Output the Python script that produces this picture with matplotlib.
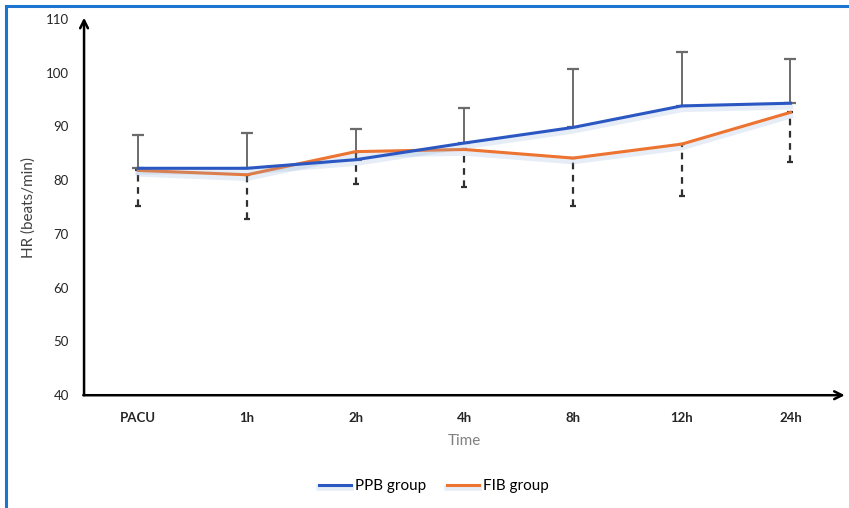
import matplotlib
matplotlib.use("Agg")
import matplotlib.pyplot as plt
import matplotlib.patheffects as pe
from matplotlib.patches import Rectangle
import numpy as np

plt.rcParams['font.family'] = ['Lato', 'DejaVu Sans']

categories = ["PACU", "1h", "2h", "4h", "8h", "12h", "24h"]
ppb_mean = [82.2, 82.2, 83.8, 86.9, 89.8, 93.8, 94.3]
ppb_sd = [6.2, 6.6, 5.7, 6.6, 10.9, 10.0, 8.3]
fib_mean = [81.8, 81.0, 85.3, 85.7, 84.1, 86.7, 92.6]
fib_sd = [6.7, 8.3, 6.0, 6.9, 9.0, 9.6, 9.3]
y_ticks = [40, 50, 60, 70, 80, 90, 100, 110]

blue = "#2B57C2"
orange = "#EC7330"

fig = plt.figure(figsize=(8.49, 5.08), dpi=100)
ax = fig.add_axes([0.099, 0.222, 0.896, 0.741])
x = np.arange(len(categories))

# error bars
eb1 = ax.errorbar(x, ppb_mean, yerr=[np.zeros(len(x)), ppb_sd], fmt='none',
                  ecolor="#6b6b6b", elinewidth=1.4, capsize=4, capthick=1.6, zorder=2)
eb2 = ax.errorbar(x, fib_mean, yerr=[fib_sd, np.zeros(len(x))], fmt='none',
                  ecolor="#303030", elinewidth=1.6, capsize=2.5, capthick=1.6, zorder=2)
for lc in eb2[2]:
    lc.set_linestyle((0, (3, 2.5)))

shadow = lambda c: [pe.SimpleLineShadow(offset=(0, -2.5), shadow_color=c, alpha=0.22, linewidth=4),
                    pe.Normal()]
ax.plot(x, ppb_mean, color=blue, lw=2.2, label="PPB group", zorder=4,
        path_effects=shadow("#8fb0d8"), solid_joinstyle='miter')
ax.plot(x, fib_mean, color=orange, lw=2.2, label="FIB group", zorder=3,
        path_effects=shadow("#8fb0d8"), solid_joinstyle='miter')

ax.set_xlim(-0.5, 6.5)
ax.set_ylim(40, 110)
ax.set_yticks(y_ticks)
ax.set_xticks(x)
ax.set_xticklabels(categories, fontsize=9.5, fontweight='bold', color="#262626")
ax.tick_params(axis='y', length=0, pad=11, labelsize=9.5, labelcolor="#262626")
ax.tick_params(axis='x', length=0, pad=12)
for s in ax.spines.values():
    s.set_visible(False)

# arrow axes
ax.annotate("", xy=(0, 1.003), xytext=(0, 0), xycoords='axes fraction',
            arrowprops=dict(arrowstyle='->', color='black', lw=1.8, shrinkA=0, shrinkB=0,
                            mutation_scale=14))
ax.annotate("", xy=(1.0, 0), xytext=(-0.001, 0), xycoords='axes fraction',
            arrowprops=dict(arrowstyle='->', color='black', lw=1.8, shrinkA=0, shrinkB=0,
                            mutation_scale=14))

ax.set_ylabel("HR (beats/min)", fontsize=11, color="#404040", labelpad=7)
ax.set_xlabel("Time", fontsize=11, color="#808080", labelpad=7)

fig.legend(loc='center', bbox_to_anchor=(0.511, 0.043), ncol=2, frameon=False,
           fontsize=11, handlelength=2.1, handletextpad=0.25, columnspacing=1.4)

# blue frame around figure
fig.add_artist(Rectangle((6 / 849, -0.1), 1.2, 1 - 6 / 508 + 0.1, transform=fig.transFigure,
                         fill=False, edgecolor="#1b74cf", lw=2.2))

fig.savefig("out.png", dpi=100)
